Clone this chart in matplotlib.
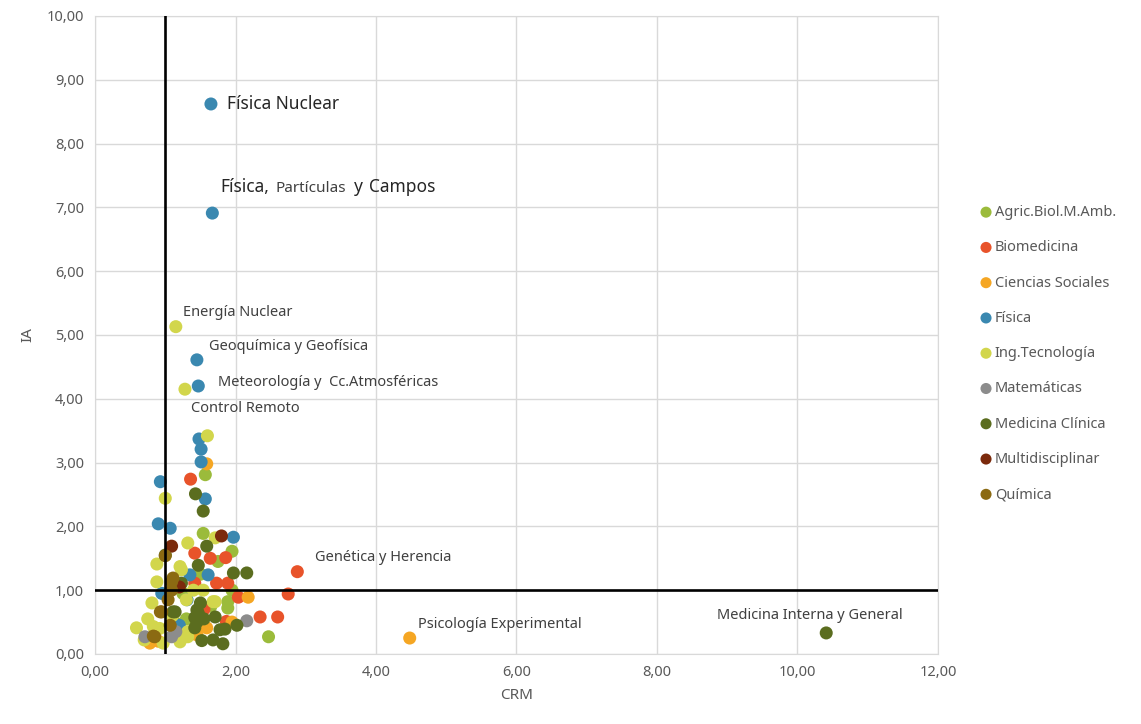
import matplotlib
matplotlib.use("Agg")
import matplotlib.pyplot as plt
from matplotlib.ticker import FuncFormatter
from matplotlib.transforms import offset_copy

plt.rcParams['font.family'] = ['Noto Sans', 'DejaVu Sans']

# CRM (x) / IA (y) por área temática
agric_x = [1.57, 1.54, 1.95, 1.89, 1.89, 1.18, 2.47, 1.50, 1.75, 1.25, 1.95, 1.65, 1.30]
agric_y = [2.81, 1.89, 1.61, 0.72, 0.82, 0.47, 0.27, 1.25, 1.45, 0.95, 1.00, 0.75, 0.55]

biomed_x = [1.36, 1.42, 1.64, 1.86, 1.42, 1.73, 1.89, 2.75, 2.04, 2.35, 2.60, 1.87, 2.88, 1.55]
biomed_y = [2.74, 1.58, 1.50, 1.51, 1.11, 1.11, 1.11, 0.94, 0.89, 0.58, 0.58, 0.51, 1.29, 0.70]

socia_x = [1.59, 2.18, 1.59, 0.78, 4.48, 1.95, 1.45, 0.90]
socia_y = [2.98, 0.89, 0.41, 0.17, 0.25, 0.50, 0.30, 0.20]

fisica_x = [1.65, 1.67, 1.45, 1.47, 1.48, 1.51, 1.51, 0.93, 1.57, 0.90, 1.07, 1.97,
            1.35, 1.61, 1.31, 0.95, 1.20]
fisica_y = [8.62, 6.91, 4.61, 4.20, 3.37, 3.21, 3.01, 2.70, 2.43, 2.04, 1.97, 1.83,
            1.24, 1.24, 0.85, 0.95, 0.45]

ing_x = [1.15, 1.28, 1.60, 1.00, 1.71, 1.32, 0.88, 1.21, 0.88, 1.54, 0.81, 1.71,
         1.30, 0.59, 0.83, 1.32, 1.21, 0.97, 1.32, 1.23, 1.68, 1.10, 0.75, 1.40,
         0.70, 0.92, 1.15]
ing_y = [5.13, 4.15, 3.42, 2.44, 1.82, 1.74, 1.41, 1.37, 1.13, 1.00, 0.80, 0.82,
         0.85, 0.41, 0.43, 0.27, 0.19, 0.17, 0.35, 1.32, 0.82, 0.60, 0.55, 1.00,
         0.22, 0.40, 0.32]

mat_x = [2.16, 0.71, 1.09, 1.15]
mat_y = [0.52, 0.27, 0.27, 0.35]

medcl_x = [10.41, 1.43, 1.54, 1.59, 1.47, 1.97, 2.16, 1.23, 1.14, 1.45, 1.71, 2.02,
           1.85, 1.45, 1.52, 1.68, 1.82, 1.47, 1.42, 1.42, 1.78, 1.11, 1.00, 1.50, 1.55]
medcl_y = [0.33, 2.51, 2.24, 1.69, 1.39, 1.27, 1.27, 1.11, 0.66, 0.69, 0.58, 0.45,
           0.39, 0.50, 0.21, 0.22, 0.16, 0.64, 0.57, 0.41, 0.38, 0.66, 1.55, 0.80, 0.55]

multi_x = [1.80, 1.09, 1.20]
multi_y = [1.85, 1.69, 1.05]

quim_x = [1.00, 1.09, 1.04, 0.95, 0.83, 1.11, 1.09, 1.07, 0.85, 0.93]
quim_y = [1.54, 1.13, 0.85, 0.66, 0.28, 1.19, 1.00, 0.45, 0.27, 0.66]

series = [
    ("Agric.Biol.M.Amb.", agric_x, agric_y, "#9bbb3b"),
    ("Biomedicina", biomed_x, biomed_y, "#e8532a"),
    ("Ciencias Sociales", socia_x, socia_y, "#f5a623"),
    ("Física", fisica_x, fisica_y, "#3a88b0"),
    ("Ing.Tecnología", ing_x, ing_y, "#d2d64c"),
    ("Matemáticas", mat_x, mat_y, "#8c8c8c"),
    ("Medicina Clínica", medcl_x, medcl_y, "#5b6d1f"),
    ("Multidisciplinar", multi_x, multi_y, "#7b2a0c"),
    ("Química", quim_x, quim_y, "#8b6a12"),
]

fig = plt.figure(figsize=(11.41, 7.24), dpi=100)
ax = fig.add_axes([0.0833, 0.0967, 0.7387, 0.8813])

handles = []
for name, xs, ys, col in series:
    h = ax.scatter(xs, ys, s=88, color=col, edgecolors="none", label=name, zorder=3)
    handles.append(h)

# umbrales CRM = 1 e IA = 1
ax.axvline(1.0, color="black", lw=1.9, zorder=4)
ax.axhline(1.0, color="black", lw=1.9, zorder=4)

ax.set_xlim(0, 12)
ax.set_ylim(0, 10)
ax.set_xticks(range(0, 13, 2))
ax.set_yticks(range(0, 11, 1))
fmt = FuncFormatter(lambda v, p: f"{v:.2f}".replace(".", ","))
ax.xaxis.set_major_formatter(fmt)
ax.yaxis.set_major_formatter(fmt)
ax.grid(True, color="#d9d9d9", lw=1.0, zorder=0)
ax.set_axisbelow(True)
for sp in ax.spines.values():
    sp.set_color("#d9d9d9")
ax.tick_params(length=0, labelsize=10.5, labelcolor="#595959", pad=8)
ax.set_xlabel("CRM", fontsize=11, color="#595959", labelpad=6)
ax.set_ylabel("IA", fontsize=11, color="#595959", labelpad=8)

# etiquetas de áreas destacadas
big = dict(fontsize=12.5, color="#262626", va="baseline", ha="left")
small = dict(fontsize=11, color="#404040", va="baseline", ha="left")
lab = dict(fontsize=10.5, color="#404040", va="center", ha="left")
ax.text(1.88, 8.62, "Física Nuclear", fontsize=12.5, color="#262626", va="center", ha="left")

# "Física, Partículas y Campos" con tamaños mezclados, encadenado en píxeles
renderer = fig.canvas.get_renderer()
pieces = [("Física,", big, 0), ("Partículas", small, 7), ("y", big, 7), ("Campos", big, 7)]
dx = 0.0
for txt, style, gap in pieces:
    dx += gap
    t = ax.text(1.78, 7.24, txt,
                transform=offset_copy(ax.transData, fig=fig, x=dx, y=0, units="dots"),
                **style)
    dx += t.get_window_extent(renderer).width

ax.text(1.25, 5.35, "Energía Nuclear", **lab)
ax.text(1.62, 4.82, "Geoquímica y Geofísica", **lab)
ax.text(1.75, 4.25, "Meteorología y  Cc.Atmosféricas", **lab)
ax.text(1.37, 3.84, "Control Remoto", **lab)
ax.text(3.13, 1.51, "Genética y Herencia", **lab)
ax.text(4.60, 0.47, "Psicología Experimental", **lab)
ax.text(8.85, 0.60, "Medicina Interna y General", **lab)

leg = fig.legend(handles=handles, loc="upper left", bbox_to_anchor=(0.845, 0.735),
                 frameon=False, fontsize=10.5, labelcolor="#595959",
                 handletextpad=0.0, labelspacing=1.39, markerscale=0.85,
                 handlelength=1.2)

fig.savefig("out.png", dpi=100)
